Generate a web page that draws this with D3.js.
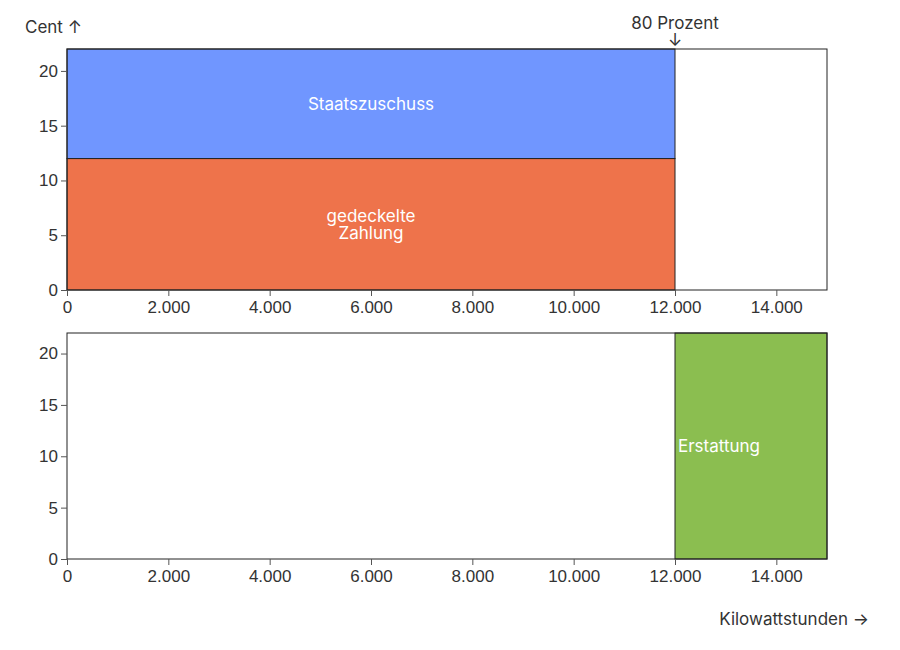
<!DOCTYPE html>
<html>
<head>
<meta charset="utf-8">
<script src="https://cdn.jsdelivr.net/npm/d3@7"></script>
<style>
  body { margin: 0; background: #fff; }
  svg { font-family: Inter, "Noto Sans", sans-serif; }
  .tick text { font-size: 17px; fill: #333; }
  .tick line, .domain { stroke: #555; }
</style>
</head>
<body>
<div id="chart"></div>
<script>
const width = 900;
const height = 650;

// data
const xMax = 15000;
const yMax = 22;
const capKwh = 12000;
const topBars = [
    { label: ["gedeckelte", "Zahlung"], x0: 0, x1: 12000, y0: 0, y1: 12, color: "#ee734b" },
    { label: ["Staatszuschuss"], x0: 0, x1: 12000, y0: 12, y1: 22, color: "#7096ff" }
];
const bottomBars = [
    { label: ["Erstattung"], x0: 12000, x1: 15000, y0: 0, y1: 22, color: "#8bbe50" }
];
const xTicks = [0, 2000, 4000, 6000, 8000, 10000, 12000, 14000];
const yTicks = [0, 5, 10, 15, 20];

const svg = d3.select("#chart").append("svg")
    .attr("width", width)
    .attr("height", height);

const x = d3.scaleLinear()
    .domain([0, xMax])
    .range([67, 827]);

const fmt = d => d3.format(",")(d).replace(/,/g, ".");

function panel(bars, top, bottom, centerLabels) {
    const y = d3.scaleLinear().domain([0, yMax]).range([bottom, top]);
    const g = svg.append("g");

    g.selectAll("rect.bar")
        .data(bars)
        .enter().append("rect")
        .attr("class", "bar")
        .attr("x", d => x(d.x0))
        .attr("y", d => y(d.y1))
        .attr("width", d => x(d.x1) - x(d.x0))
        .attr("height", d => y(d.y0) - y(d.y1))
        .attr("fill", d => d.color)
        .attr("stroke", "#222")
        .attr("stroke-width", 1);

    // outer frame
    g.append("rect")
        .attr("x", x(0))
        .attr("y", y(yMax))
        .attr("width", x(xMax) - x(0))
        .attr("height", y(0) - y(yMax))
        .attr("fill", "none")
        .attr("stroke", "#222")
        .attr("stroke-width", 1);

    const labels = g.selectAll("text.lbl")
        .data(bars)
        .enter().append("text")
        .attr("class", "lbl")
        .attr("fill", "#fff")
        .style("font-size", "17px")
        .attr("text-anchor", centerLabels ? "middle" : "start")
        .attr("x", d => centerLabels ? (x(d.x0) + x(d.x1)) / 2 : x(d.x0) + 3)
        .attr("y", d => (y(d.y0) + y(d.y1)) / 2);

    labels.selectAll("tspan")
        .data(d => d.label.map((t, i) => ({ t, i, n: d.label.length })))
        .enter().append("tspan")
        .attr("x", function() { return this.parentNode.getAttribute("x"); })
        .attr("dy", d => d.i === 0 ? ((0.35 - (d.n - 1) * 0.5) + "em") : "1em")
        .text(d => d.t);

    g.append("g")
        .attr("transform", `translate(0,${bottom})`)
        .call(d3.axisBottom(x).tickValues(xTicks).tickFormat(fmt).tickSizeOuter(0))
        .call(a => a.select(".domain").remove())
        .selectAll("text").attr("dy", "0.85em");

    g.append("g")
        .attr("transform", `translate(${x(0)},0)`)
        .call(d3.axisLeft(y).tickValues(yTicks).tickSizeOuter(0))
        .call(a => a.select(".domain").remove());

    return y;
}

panel(topBars, 49, 290, true);
panel(bottomBars, 333, 559, false);

// annotations
svg.append("text")
    .attr("x", 25)
    .attr("y", 33)
    .attr("fill", "#333")
    .style("font-size", "17px")
    .text("Cent ↑");

const cap = svg.append("text")
    .attr("x", x(capKwh))
    .attr("y", 29)
    .attr("text-anchor", "middle")
    .attr("fill", "#333")
    .style("font-size", "17px");
cap.append("tspan").text("80 Prozent");
cap.append("tspan").attr("x", x(capKwh)).attr("dy", "1em").text("↓");

svg.append("text")
    .attr("x", 869)
    .attr("y", 625)
    .attr("text-anchor", "end")
    .attr("fill", "#333")
    .style("font-size", "17px")
    .text("Kilowattstunden →");
</script>
</body>
</html>
